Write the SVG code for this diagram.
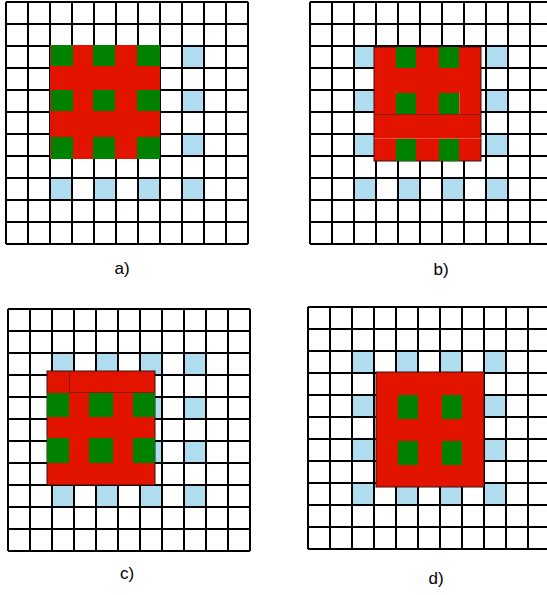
<svg xmlns="http://www.w3.org/2000/svg" xmlns:xlink="http://www.w3.org/1999/xlink" width="547" height="595" viewBox="0 0 547 595">
<style>
.bg{fill:#ffffff}
.b{fill:#b0dcef}
.r{fill:#e21400}
.rs{fill:#e21400;stroke:#3a1010;stroke-width:1}
.g{fill:#008200}
.gl{fill:none;stroke:#000;stroke-width:2}
.ln{stroke:#8a1a10;stroke-width:1;fill:none}
.lt{stroke:#f05040;stroke-width:1;fill:none}
.lbl{font-family:"Liberation Sans",Arial,sans-serif;font-size:17px;fill:#000;text-anchor:middle}
</style>
<defs>
<path id="grid" d="M0,0V242M22,0V242M44,0V242M66,0V242M88,0V242M110,0V242M132,0V242M154,0V242M176,0V242M198,0V242M220,0V242M242,0V242M0,0H242M0,22H242M0,44H242M0,66H242M0,88H242M0,110H242M0,132H242M0,154H242M0,176H242M0,198H242M0,220H242M0,242H242"/>
<g id="lattice">
<rect class="b" x="44" y="44" width="22" height="22"/><rect class="b" x="88" y="44" width="22" height="22"/><rect class="b" x="132" y="44" width="22" height="22"/><rect class="b" x="176" y="44" width="22" height="22"/>
<rect class="b" x="44" y="88" width="22" height="22"/><rect class="b" x="88" y="88" width="22" height="22"/><rect class="b" x="132" y="88" width="22" height="22"/><rect class="b" x="176" y="88" width="22" height="22"/>
<rect class="b" x="44" y="132" width="22" height="22"/><rect class="b" x="88" y="132" width="22" height="22"/><rect class="b" x="132" y="132" width="22" height="22"/><rect class="b" x="176" y="132" width="22" height="22"/>
<rect class="b" x="44" y="176" width="22" height="22"/><rect class="b" x="88" y="176" width="22" height="22"/><rect class="b" x="132" y="176" width="22" height="22"/><rect class="b" x="176" y="176" width="22" height="22"/>
</g>
</defs>
<rect class="bg" x="0" y="0" width="547" height="595"/>

<g id="panel-a">
<use xlink:href="#lattice" href="#lattice" x="6" y="2"/>
<use xlink:href="#grid" href="#grid" class="gl" x="6" y="2"/>
<rect class="r" x="50" y="45" width="110" height="114"/>
<rect class="g" x="51" y="45" width="22" height="21"/><rect class="g" x="93" y="45" width="22" height="21"/><rect class="g" x="137" y="45" width="23" height="21"/>
<rect class="g" x="51" y="90" width="22" height="21"/><rect class="g" x="93" y="90" width="22" height="21"/><rect class="g" x="137" y="90" width="23" height="21"/>
<rect class="g" x="51" y="137" width="22" height="22"/><rect class="g" x="93" y="137" width="22" height="22"/><rect class="g" x="137" y="137" width="23" height="22"/>
<text class="lbl" x="122" y="274">a)</text>
</g>

<g id="panel-b">
<use xlink:href="#lattice" href="#lattice" x="310" y="2"/>
<use xlink:href="#grid" href="#grid" class="gl" x="310" y="2"/>
<rect class="rs" x="374" y="47" width="107" height="114"/>
<path class="ln" d="M374,114.5H481"/>
<path class="lt" d="M374,138.5H481M396.5,92V114M459.5,92V114"/>
<rect class="g" x="396" y="47" width="20" height="21"/><rect class="g" x="439" y="47" width="20" height="21"/>
<rect class="g" x="396" y="93" width="20" height="21"/><rect class="g" x="439" y="93" width="20" height="21"/>
<rect class="g" x="396" y="139" width="20" height="22"/><rect class="g" x="439" y="139" width="20" height="22"/>
<text class="lbl" x="441" y="275">b)</text>
</g>

<g id="panel-c">
<use xlink:href="#lattice" href="#lattice" x="8" y="309"/>
<use xlink:href="#grid" href="#grid" class="gl" x="8" y="309"/>
<rect class="rs" x="47" y="371" width="108" height="114"/>
<path class="ln" d="M69.5,371V393M69,392.5H155"/>
<rect class="g" x="47" y="393" width="22" height="24"/><rect class="g" x="89" y="393" width="24" height="24"/><rect class="g" x="133" y="393" width="22" height="24"/>
<rect class="g" x="47" y="438" width="22" height="25"/><rect class="g" x="89" y="438" width="24" height="25"/><rect class="g" x="133" y="438" width="22" height="25"/>
<text class="lbl" x="127" y="579">c)</text>
</g>

<g id="panel-d">
<use xlink:href="#lattice" href="#lattice" x="308" y="307"/>
<use xlink:href="#grid" href="#grid" class="gl" x="308" y="307"/>
<rect class="rs" x="376" y="372" width="108" height="115"/>
<rect class="g" x="398" y="395" width="20" height="24"/><rect class="g" x="442" y="395" width="20" height="24"/>
<rect class="g" x="398" y="441" width="20" height="24"/><rect class="g" x="442" y="441" width="20" height="24"/>
<text class="lbl" x="436" y="584">d)</text>
</g>
</svg>
